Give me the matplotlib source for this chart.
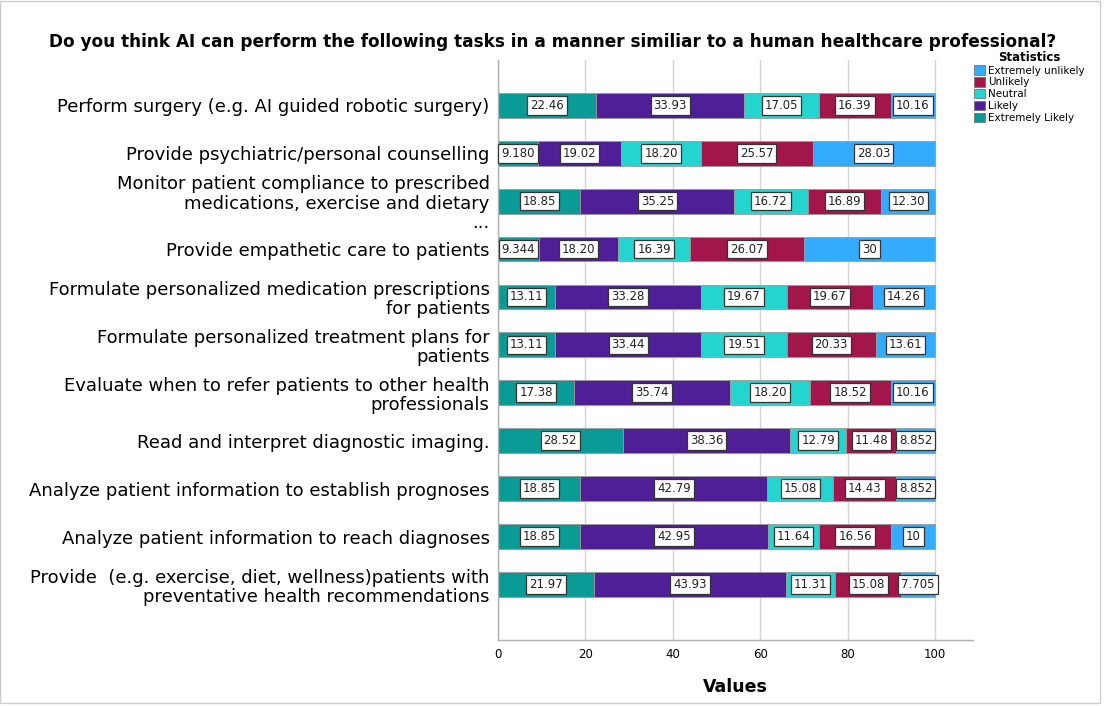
import numpy as np
import matplotlib
matplotlib.use('Agg')
import matplotlib.pyplot as plt
from matplotlib.patches import Patch, Rectangle

# ── Data ─────────────────────────────────────────────────────
tasks = [
    "Perform surgery (e.g. AI guided robotic surgery)",
    "Provide psychiatric/personal counselling",
    "Monitor patient compliance to prescribed\nmedications, exercise and dietary\n...",
    "Provide empathetic care to patients",
    "Formulate personalized medication prescriptions\nfor patients",
    "Formulate personalized treatment plans for\npatients",
    "Evaluate when to refer patients to other health\nprofessionals",
    "Read and interpret diagnostic imaging.",
    "Analyze patient information to establish prognoses",
    "Analyze patient information to reach diagnoses",
    "Provide  (e.g. exercise, diet, wellness)patients with\npreventative health recommendations",
]

extremely_likely   = [22.46, 9.180, 18.85, 9.344, 13.11, 13.11, 17.38, 28.52, 18.85, 18.85, 21.97]
likely             = [33.93, 19.02, 35.25, 18.20, 33.28, 33.44, 35.74, 38.36, 42.79, 42.95, 43.93]
neutral            = [17.05, 18.20, 16.72, 16.39, 19.67, 19.51, 18.20, 12.79, 15.08, 11.64, 11.31]
unlikely           = [16.39, 25.57, 16.89, 26.07, 19.67, 20.33, 18.52, 11.48, 14.43, 16.56, 15.08]
extremely_unlikely = [10.16, 28.03, 12.30, 30.00, 14.26, 13.61, 10.16, 8.852, 8.852, 10.00, 7.705]

series_names = ["Extremely Likely", "Likely", "Neutral", "Unlikely", "Extremely unlikely"]
series_vals = [extremely_likely, likely, neutral, unlikely, extremely_unlikely]
colors = ["#0A9B97", "#4E1F97", "#24D4CF", "#A2164C", "#33ACFD"]

x_ticks = [0, 20, 40, 60, 80, 100]


def fmt(v):
    if float(v).is_integer():
        return str(int(v))
    return f"{v:#.4g}"


# ── Figure ───────────────────────────────────────────────────
fig = plt.figure(figsize=(11.06, 7.06), dpi=100)
ax = fig.add_axes([0.4503, 0.0935, 0.4295, 0.8215])

y = np.arange(len(tasks))
left = np.zeros(len(tasks))
for name, vals, col in zip(series_names, series_vals, colors):
    vals = np.array(vals)
    ax.barh(y, vals, left=left, height=0.52, color=col,
            edgecolor='#9a9a9a', linewidth=0.6, label=name, zorder=2)
    for yi, l, v in zip(y, left, vals):
        ax.text(l + v / 2, yi, fmt(v), ha='center', va='center',
                fontsize=8.5, color='#222222', zorder=4,
                bbox=dict(boxstyle='square,pad=0.25', fc='white',
                          ec='#333333', lw=0.9))
    left += vals

ax.set_xlim(0, 108.7)
ax.set_ylim(11.15, -0.94)
ax.set_yticks(y)
ax.set_yticklabels(tasks, fontsize=13, ha='right', multialignment='right',
                   linespacing=1.1)
ax.set_xticks(x_ticks)
ax.tick_params(axis='x', labelsize=8.5, length=0, pad=6)
ax.tick_params(axis='y', length=0, pad=6)
ax.xaxis.grid(True, color='#d4d4d4', linewidth=1.0, zorder=0)
ax.set_axisbelow(True)

for s in ['top', 'right']:
    ax.spines[s].set_visible(False)
for s in ['left', 'bottom']:
    ax.spines[s].set_color('#b0b0b0')
    ax.spines[s].set_linewidth(1.0)

ax.set_xlabel('Values', fontsize=12.5, fontweight='bold', labelpad=12)

fig.text(0.5, 0.94, 'Do you think AI can perform the following tasks in a manner similiar to a human healthcare professional?',
         ha='center', va='center', fontsize=12.2, fontweight='bold')

handles = [Patch(facecolor=c, edgecolor='#666666', linewidth=0.5, label=n)
           for n, c in zip(series_names, colors)][::-1]
leg = fig.legend(handles=handles, title='Statistics', loc='upper left',
                 bbox_to_anchor=(0.881, 0.928), frameon=False, fontsize=7.5,
                 title_fontproperties={'weight': 'bold', 'size': 8.5},
                 handlelength=1.0, handleheight=1.0, handletextpad=0.3,
                 labelspacing=0.15, borderaxespad=0, borderpad=0)

# light frame around the figure
fig.patches.append(Rectangle((0.0, 0.004), 0.995, 0.994, transform=fig.transFigure,
                             fill=False, edgecolor='#cccccc', linewidth=1.0))

fig.savefig('out.png', dpi=100)
